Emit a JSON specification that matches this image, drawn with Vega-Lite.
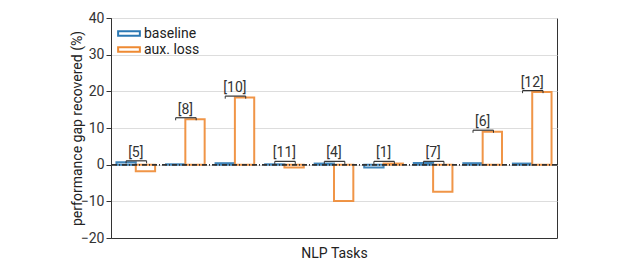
{
  "$schema": "https://vega.github.io/schema/vega-lite/v6.json",
  "width": 446,
  "height": 220,
  "autosize": "none",
  "padding": {"left": 111, "top": 18, "right": 65, "bottom": 31},
  "background": "white",
  "config": {
    "font": "Roboto",
    "view": {"stroke": "#333333", "strokeWidth": 1},
    "axis": {"labelFont": "Roboto", "titleFont": "Roboto", "titleFontWeight": "normal", "labelColor": "#333333", "titleColor": "#222222", "domainColor": "#333333", "tickColor": "#333333"},
    "axisY": {"labelOverlap": false, "gridColor": "#dddddd", "labelFontSize": 14, "tickSize": 5, "labelPadding": 2, "titleFontSize": 14, "titleX": -30, "titleY": 110, "titleBaseline": "alphabetic", "titleAlign": "center", "titleAngle": -90}
  },
  "data": {
    "values": [
      {"task": "t1", "label": "[5]", "baseline": 0.65, "aux": -1.8},
      {"task": "t2", "label": "[8]", "baseline": 0.1, "aux": 12.4},
      {"task": "t3", "label": "[10]", "baseline": 0.4, "aux": 18.3},
      {"task": "t4", "label": "[11]", "baseline": 0.1, "aux": -0.8},
      {"task": "t5", "label": "[4]", "baseline": 0.3, "aux": -9.9},
      {"task": "t6", "label": "[1]", "baseline": -0.8, "aux": 0.3},
      {"task": "t7", "label": "[7]", "baseline": 0.45, "aux": -7.4},
      {"task": "t8", "label": "[6]", "baseline": 0.4, "aux": 9.0},
      {"task": "t9", "label": "[12]", "baseline": 0.3, "aux": 19.8}
    ]
  },
  "encoding": {
    "x": {
      "field": "task", "type": "nominal", "sort": null,
      "scale": {"paddingInner": 0.22, "paddingOuter": 0.11},
      "axis": {"labels": false, "ticks": false, "title": "NLP Tasks", "titleFontSize": 14, "titlePadding": 8, "domainColor": "#333333"}
    }
  },
  "layer": [
    {
      "transform": [{"fold": ["baseline", "aux"], "as": ["series", "value"]}],
      "mark": {"type": "bar", "fill": "white", "strokeWidth": 2, "strokeOpacity": 0.9},
      "encoding": {
        "xOffset": {"field": "series", "type": "nominal", "sort": ["baseline", "aux"]},
        "y": {
          "field": "value", "type": "quantitative",
          "scale": {"domain": [-20, 40], "nice": false},
          "title": "performance gap recovered (%)",
          "axis": {"values": [-20, -10, 0, 10, 20, 30, 40]}
        },
        "stroke": {
          "field": "series", "type": "nominal",
          "scale": {"domain": ["baseline", "aux"], "range": ["#2b78b3", "#ee8a33"]},
          "legend": {
            "title": null, "orient": "none", "legendX": 9.5, "legendY": 7,
            "symbolType": "M-1.45,-0.3H1.45V0.3H-1.45Z", "symbolSize": 225, "symbolStrokeWidth": 2,
            "symbolFillColor": "white", "labelFontSize": 14, "labelColor": "#222222", "labelOffset": 6.5, "rowPadding": 0,
            "labelExpr": "datum.label == 'aux' ? 'aux. loss' : datum.label"
          }
        }
      }
    },
    {
      "mark": {"type": "rule", "color": "#333333", "strokeWidth": 0.9, "strokeDash": [5, 2, 1, 2]},
      "encoding": {"y": {"datum": 0, "type": "quantitative", "title": "performance gap recovered (%)", "axis": {"values": [-20, -10, 0, 10, 20, 30, 40]}}, "x": null}
    },
    {
      "transform": [
        {"calculate": "max(datum.baseline, datum.aux, 0.5) + 0.4", "as": "top"},
        {"calculate": "datum.top - 0.7", "as": "tickbottom"}
      ],
      "layer": [
        {
          "mark": {"type": "rule", "color": "#333333", "strokeWidth": 1.2},
          "encoding": {
            "x": {"field": "task", "type": "nominal", "sort": null, "bandPosition": 0.25},
            "x2": {"field": "task", "bandPosition": 0.78},
            "y": {"field": "top", "type": "quantitative", "title": "performance gap recovered (%)", "axis": {"values": [-20, -10, 0, 10, 20, 30, 40]}}
          }
        },
        {
          "mark": {"type": "rule", "color": "#333333", "strokeWidth": 1},
          "encoding": {
            "x": {"field": "task", "type": "nominal", "sort": null, "bandPosition": 0.25},
            "y": {"field": "top", "type": "quantitative", "title": "performance gap recovered (%)", "axis": {"values": [-20, -10, 0, 10, 20, 30, 40]}},
            "y2": {"field": "tickbottom"}
          }
        },
        {
          "mark": {"type": "rule", "color": "#333333", "strokeWidth": 1},
          "encoding": {
            "x": {"field": "task", "type": "nominal", "sort": null, "bandPosition": 0.78},
            "y": {"field": "top", "type": "quantitative", "title": "performance gap recovered (%)", "axis": {"values": [-20, -10, 0, 10, 20, 30, 40]}},
            "y2": {"field": "tickbottom"}
          }
        },
        {
          "mark": {"type": "text", "fontSize": 14, "color": "#333333", "baseline": "bottom", "dy": -1},
          "encoding": {
            "x": {"field": "task", "type": "nominal", "sort": null, "bandPosition": 0.5},
            "y": {"field": "top", "type": "quantitative", "title": "performance gap recovered (%)", "axis": {"values": [-20, -10, 0, 10, 20, 30, 40]}},
            "text": {"field": "label"}
          }
        }
      ]
    }
  ]
}
